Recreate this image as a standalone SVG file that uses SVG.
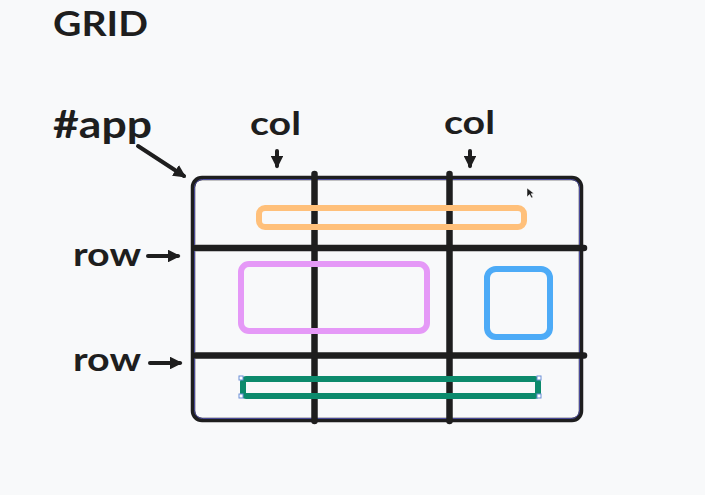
<svg xmlns="http://www.w3.org/2000/svg" width="705" height="495" viewBox="0 0 705 495">
<defs>
<style>
.lbl{font-family:"Lato","Liberation Sans",sans-serif;font-weight:bold;fill:#1e1e1e}
.gl{stroke:#1e1e1e;stroke-width:6.5;stroke-linecap:round;fill:none}
.arr{stroke:#1e1e1e;stroke-width:4;stroke-linecap:round;fill:none}
.box{fill:none;stroke-width:6}
</style>
<marker id="ah" viewBox="0 0 10 10" refX="8" refY="5" markerWidth="3.2" markerHeight="3.2" orient="auto" markerUnits="strokeWidth">
<path d="M0,0 L10,5 L0,10 Z" fill="#1e1e1e"/>
</marker>
</defs>
<rect width="705" height="495" fill="#f8f9fa"/>
<text class="lbl" x="53" y="36" font-size="34" textLength="95" lengthAdjust="spacingAndGlyphs">GRID</text>
<g id="app-label"><text class="lbl" x="53" y="138" font-size="38" textLength="99" lengthAdjust="spacingAndGlyphs">#app</text></g>
<g id="col1-label"><text class="lbl" x="250" y="135" font-size="32" textLength="51" lengthAdjust="spacingAndGlyphs">col</text></g>
<g id="col2-label"><text class="lbl" x="444" y="134" font-size="32" textLength="51" lengthAdjust="spacingAndGlyphs">col</text></g>
<g id="row1-label"><text class="lbl" x="73" y="266" font-size="33" textLength="68" lengthAdjust="spacingAndGlyphs">row</text></g>
<g id="row2-label"><text class="lbl" x="73" y="371" font-size="33" textLength="68" lengthAdjust="spacingAndGlyphs">row</text></g>
<g id="app">
<rect x="193" y="178" width="388" height="242" rx="9" fill="none" stroke="#1e1e1e" stroke-width="4.5"/>
<rect x="194.5" y="179.5" width="385" height="239" rx="8" fill="none" stroke="#4a4a9a" stroke-width="1"/>
</g>
<g id="grid-lines">
<line class="gl" x1="314.5" y1="174" x2="314.5" y2="421"/>
<line class="gl" x1="449.5" y1="174" x2="449.5" y2="421"/>
<line class="gl" x1="196" y1="248" x2="584" y2="248"/>
<line class="gl" x1="196" y1="355.5" x2="584" y2="355.5"/>
</g>
<g id="orange"><rect class="box" x="259" y="208" width="265" height="19" rx="6" stroke="#ffc07a"/></g>
<g id="pink"><rect class="box" x="241" y="264" width="186" height="67" rx="8" stroke="#e599f7"/></g>
<g id="blue"><rect class="box" x="487" y="269" width="63" height="68" rx="9" stroke="#4dabf7"/></g>
<g id="green">
<rect class="box" x="243" y="379" width="295" height="17" rx="3" stroke="#0c8a6c"/>
<g fill="#fff" stroke="#6b8fd6" stroke-width="1">
<rect x="239" y="376" width="4" height="4"/><rect x="537" y="376" width="4" height="4"/>
<rect x="239" y="394" width="4" height="4"/><rect x="537" y="394" width="4" height="4"/>
</g>
</g>
<g id="connectors">
<line class="arr" x1="138" y1="146" x2="184" y2="176" marker-end="url(#ah)"/>
<line class="arr" x1="277" y1="151" x2="277" y2="166" marker-end="url(#ah)"/>
<line class="arr" x1="470" y1="151" x2="470" y2="166" marker-end="url(#ah)"/>
<line class="arr" x1="148" y1="256" x2="178" y2="256" marker-end="url(#ah)"/>
<line class="arr" x1="150" y1="363" x2="180" y2="363" marker-end="url(#ah)"/>
</g>
<path d="M527,188 L527,197 L529.5,194.5 L531.5,198 L533,197.3 L531,193.8 L534,193.5 Z" fill="#1e1e1e" stroke="#fff" stroke-width="0.5"/>
</svg>
